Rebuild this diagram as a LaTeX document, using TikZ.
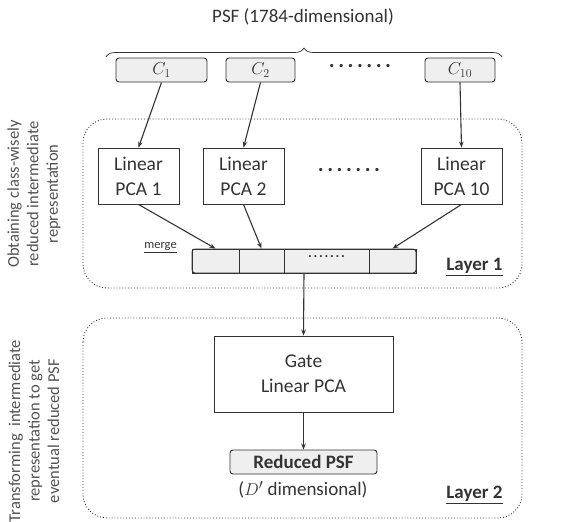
\documentclass[tikz,border=0pt]{standalone}
\usepackage{fontspec}
\setmainfont{Carlito}
\usetikzlibrary{arrows.meta,decorations.pathreplacing}
\definecolor{ink}{HTML}{333333}
\definecolor{cellfill}{HTML}{EFEFEF}
\tikzset{
  every node/.style={text=ink},
  classbox/.style={draw=ink, line width=0.9pt, fill=cellfill, rounded corners=3pt,
    minimum height=24pt, inner sep=0pt, font=\fontsize{17}{18}\selectfont},
  pcabox/.style={draw=ink, line width=0.9pt, fill=white, minimum width=81pt, minimum height=56pt,
    align=center, inner sep=0pt, font=\fontsize{19.5}{25}\selectfont},
  cell/.style={draw=ink, line width=0.9pt, fill=cellfill, minimum height=24pt, inner sep=0pt},
  layerbox/.style={draw=ink, line width=0.9pt, dotted, rounded corners=24pt},
  flow/.style={draw=ink, line width=1.1pt, -{Stealth[length=6pt,width=4.5pt]}},
  dotsrow/.style={font=\fontsize{22}{22}\selectfont\bfseries},
  layerlabel/.style={font=\fontsize{19}{20}\selectfont\bfseries},
  sidetext/.style={rotate=90, align=center, font=\fontsize{16.5}{19.5}\selectfont, text=ink!85}
}
\begin{document}
\begin{tikzpicture}[x=1pt,y=-1pt]
\useasboundingbox (0,0) rectangle (582,522);

% input features and their split into classes
\node[font=\fontsize{19}{20}\selectfont] (title) at (303,17) {PSF (1784-dimensional)};
\coordinate (braceL) at (106,57);
\coordinate (braceR) at (502,57);
\draw[ink, line width=0.7pt, decorate, decoration={brace, amplitude=9pt}] (braceL) -- (braceR);

\node[classbox, minimum width=91pt] (c1) at (161.5,70) {$C_1$};
\node[classbox, minimum width=69pt] (c2) at (260.5,70) {$C_2$};
\node[dotsrow] (cdots) at (360,66) {.\hspace{3.5pt}.\hspace{3.5pt}.\hspace{3.5pt}.\hspace{3.5pt}.\hspace{3.5pt}.\hspace{3.5pt}.};
\node[classbox, minimum width=70pt] (c10) at (460,70) {$C_{10}$};

% layer 1
\draw[layerbox] (83,119) rectangle (522,288);
\node[pcabox] (pca1) at (138.5,176) {Linear\\PCA 1};
\node[pcabox] (pca2) at (243.5,176) {Linear\\PCA 2};
\node[dotsrow] (pcadots) at (349,170) {.\hspace{3.5pt}.\hspace{3.5pt}.\hspace{3.5pt}.\hspace{3.5pt}.\hspace{3.5pt}.\hspace{3.5pt}.};
\node[pcabox] (pca10) at (461.5,176) {Linear\\PCA 10};

\node[cell, minimum width=47pt] (m1) at (215.5,261) {};
\node[cell, minimum width=45pt] (m2) at (261.5,261) {};
\node[cell, minimum width=85pt] (m3) at (326.5,261) {};
\node[cell, minimum width=47pt] (m4) at (392.5,261) {};
\node[draw=ink, line width=0.9pt, rounded corners=3pt, minimum width=224pt, minimum height=24pt,
  inner sep=0pt] (bar) at (304,261) {};
\node[font=\fontsize{14}{14}\selectfont\bfseries] (bardots) at (326.5,257) {.\hspace{1.8pt}.\hspace{1.8pt}.\hspace{1.8pt}.\hspace{1.8pt}.\hspace{1.8pt}.\hspace{1.8pt}.};

\node[font=\fontsize{12.5}{14}\selectfont] (mergelabel) at (160.5,248) {\underline{merge}};
\node[layerlabel] (l1) at (474.5,267) {\underline{Layer 1}};

\draw[flow] (c1.south) -- (pca1.north);
\draw[flow] (c2.south) -- (pca2.north);
\draw[flow] (c10.south) -- (pca10.north);
\draw[flow] (pca1.south) -- (m1.north);
\draw[flow] (pca2.south) -- (m2.north);
\draw[flow] (pca10.south) -- (m4.north);

% layer 2
\draw[layerbox] (83,318) rectangle (522,518);
\node[pcabox, minimum width=179pt, minimum height=76pt, font=\fontsize{19.5}{25}\selectfont]
  (gate) at (303.5,374) {Gate\\Linear PCA};
\node[classbox, minimum width=147pt, font=\fontsize{19}{20}\selectfont\bfseries]
  (reduced) at (303.5,462) {Reduced PSF};
\node[font=\fontsize{19}{20}\selectfont] (dim) at (303,490) {($D'$ dimensional)};
\node[layerlabel] (l2) at (474.5,495) {\underline{Layer 2}};

\draw[flow] (bar.south) -- (gate.north);
\draw[flow] (gate.south) -- (reduced.north);

% side captions
\node[sidetext] (side1) at (34,194) {Obtaining class-wisely\\reduced intermediate\\representation};
\node[sidetext] (side2) at (34,431) {Transforming~ intermediate\\representation to get\\eventual reduced PSF};
\end{tikzpicture}
\end{document}
